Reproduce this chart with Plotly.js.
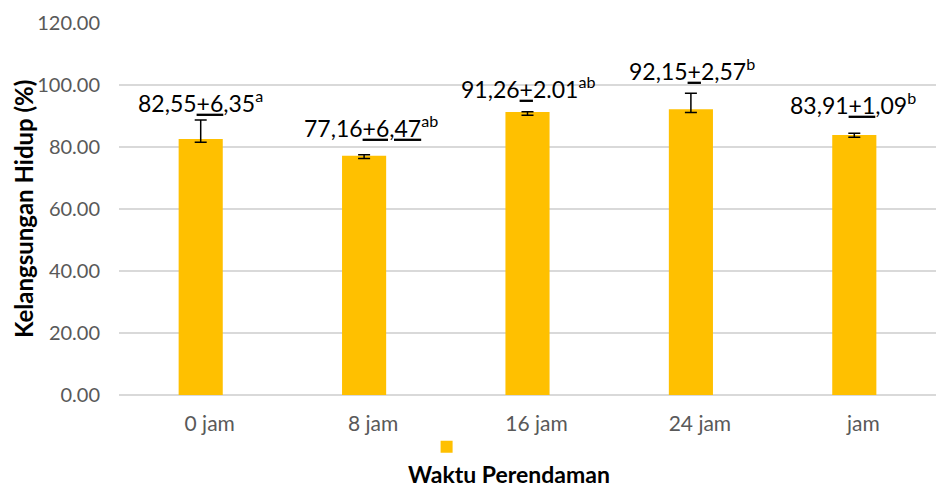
<!DOCTYPE html>
<html>
<head>
<meta charset="utf-8">
<script src="https://cdn.plot.ly/plotly-3.0.1.min.js"></script>
<style>html,body{margin:0;padding:0;background:#fff}#chart{width:936px;height:489px}</style>
</head>
<body>
<div id="chart"></div>
<script>
// Data
var categories = ['0 jam', '8 jam', '16 jam', '24 jam', 'jam'];
var survival = [82.55, 77.16, 91.26, 92.15, 83.91];
var errUpper = [6.2, 0.3, 0.1, 5.2, 0.5];
var errLower = [1.0, 0.9, 1.0, 1.0, 0.8];
var labelTexts = [
  '82,55<u>+6</u>,35<sup>a</sup>',
  '77,16<u>+6,47</u><sup>ab</sup>',
  '91,26<u>+</u>2.01<sup>ab</sup>',
  '92,15<u>+</u>2,57<sup>b</sup>',
  '83,91<u>+1</u>,09<sup>b</sup>'
];
var yTickVals = [0, 20, 40, 60, 80, 100, 120];
var yTickText = ['0.00', '20.00', '40.00', '60.00', '80.00', '100.00', '120.00'];

// Label placement (pixels above bar top, horizontal nudge)
var labelLift = [38, 29, 25, 40, 31];
var labelNudge = [0, 7, 0, 1, -1];

var FONT = 'Lato, "Open Sans", sans-serif';

var trace = {
  type: 'bar',
  x: categories,
  y: survival,
  name: ' ',
  showlegend: true,
  marker: {color: '#FFC000', line: {width: 0}},
  error_y: {
    type: 'data',
    symmetric: false,
    array: errUpper,
    arrayminus: errLower,
    color: '#000000',
    thickness: 1.5,
    width: 6
  },
  hoverinfo: 'x+y'
};

var annotations = categories.map(function (c, i) {
  return {
    x: c, y: survival[i], xref: 'x', yref: 'y',
    text: labelTexts[i], showarrow: false,
    xanchor: 'center', yanchor: 'middle',
    yshift: labelLift[i], xshift: labelNudge[i],
    font: {family: FONT, size: 23, color: '#000000'}
  };
});
annotations.push({
  xref: 'paper', yref: 'paper', x: 0.477, y: -0.2124,
  text: '<b>Waktu Perendaman</b>', showarrow: false,
  xanchor: 'center', yanchor: 'middle',
  font: {family: FONT, size: 23, color: '#000000'}
});
annotations.push({
  xref: 'paper', yref: 'paper', x: -0.1174, y: 0.5,
  text: '<b>Kelangsungan Hidup (%)</b>', showarrow: false,
  textangle: -90, xanchor: 'center', yanchor: 'middle',
  font: {family: FONT, size: 24, color: '#000000'}
});

var layout = {
  width: 936, height: 489,
  margin: {l: 119, r: 0, t: 23, b: 94, pad: 0},
  paper_bgcolor: '#ffffff', plot_bgcolor: '#ffffff',
  font: {family: FONT, color: '#595959'},
  bargap: 0.73,
  showlegend: true,
  legend: {
    orientation: 'h', x: 0.3765, y: -0.14, xanchor: 'left', yanchor: 'middle',
    font: {family: FONT, size: 14, color: '#595959'},
    bgcolor: 'rgba(0,0,0,0)'
  },
  xaxis: {
    type: 'category',
    showgrid: false, zeroline: false, showline: false,
    ticks: '', ticklabelstandoff: 14, ticklabelshift: 9,
    tickfont: {family: FONT, size: 21, color: '#595959'}
  },
  yaxis: {
    range: [0, 120], tickvals: yTickVals, ticktext: yTickText,
    showgrid: true, gridcolor: '#D9D9D9', gridwidth: 1.5,
    zeroline: true, zerolinecolor: '#D9D9D9', zerolinewidth: 1.5,
    showline: false, ticks: '', ticklabelstandoff: 18,
    tickfont: {family: FONT, size: 20, color: '#595959'}
  },
  annotations: annotations
};

Plotly.newPlot('chart', [trace], layout, {displayModeBar: false, staticPlot: true});
</script>
</body>
</html>
